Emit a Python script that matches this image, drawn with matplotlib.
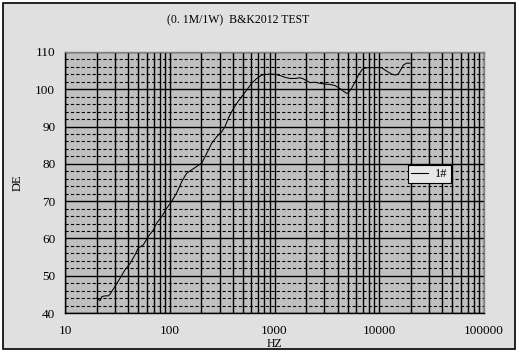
import matplotlib
matplotlib.use("Agg")
import matplotlib.pyplot as plt
from matplotlib.patches import Rectangle
from matplotlib.ticker import LogLocator, MultipleLocator, FixedLocator, FixedFormatter, NullFormatter

plt.rcParams['font.family'] = ['Liberation Serif', 'DejaVu Serif']
plt.rcParams['lines.scale_dashes'] = False

# frequency response
freq = [20, 21.6, 22.5, 24.1, 26, 27, 30, 33.5, 37.4, 41.8, 46.6, 50, 56, 62.4,
        69.7, 75, 83.7, 93.5, 104, 116, 130, 145, 162, 181, 202, 217, 234, 251,
        281, 313, 337, 362, 390, 435, 486, 543, 606, 676, 755, 842, 906, 1011,
        1130, 1260, 1406, 1570, 1752, 1884, 2027, 2182, 2436, 2719, 3035, 3388,
        3782, 4221, 4538, 4886, 5070, 5460, 5880, 6330, 6820, 7050, 7870, 8770,
        9780, 10500, 11300, 12200, 13100, 14100, 15200, 16000, 17000, 18200, 19700]
spl = [44.0, 43.3, 44.4, 44.6, 44.6, 45.1, 47.1, 49.3, 51.6, 53.3, 55.6, 57.4, 58.3, 60.5,
       62.3, 64.1, 65.8, 68.1, 69.9, 72.1, 75.2, 77.5, 78.4, 79.3, 80.2, 81.9, 83.7, 85.5,
       87.3, 88.6, 90.0, 92.2, 94.0, 96.2, 98.0, 99.8, 101.6, 102.9, 103.8, 104.0, 104.1, 104.0,
       103.7, 103.2, 102.9, 102.9, 103.1, 102.8, 102.3, 101.8, 101.9, 101.6, 101.4, 101.3,
       101.0, 100.2, 99.5, 98.9, 99.1, 100.3, 102.0, 103.8, 105.2, 105.6, 105.8, 105.8,
       105.8, 105.8, 105.2, 104.6, 104.1, 103.8, 104.1, 105.2, 106.5, 107.0, 107.0]

x_ticks = [10, 100, 1000, 10000, 100000]
x_labels = ['10', '100', '1000', '10000', '100000']
y_ticks = [40, 50, 60, 70, 80, 90, 100, 110]

fig = plt.figure(figsize=(5.21, 3.64), dpi=100, facecolor='white')
fig.patches.append(Rectangle((3/521, 1 - 349/364), 512/521, 346/364,
                             transform=fig.transFigure, facecolor='#e0e0e0',
                             edgecolor='black', linewidth=1.2, zorder=-10))

ax = fig.add_axes([65/521, 1 - 313/364, 419/521, 261/364])
ax.set_facecolor('#c0c0c0')
ax.set_xscale('log')
ax.set_xlim(10, 100000)
ax.set_ylim(40, 110)

ax.xaxis.set_major_locator(FixedLocator(x_ticks))
ax.xaxis.set_major_formatter(FixedFormatter(x_labels))
ax.xaxis.set_minor_locator(LogLocator(base=10, subs=range(2, 10), numticks=20))
ax.xaxis.set_minor_formatter(NullFormatter())
ax.yaxis.set_major_locator(FixedLocator(y_ticks))
ax.yaxis.set_minor_locator(MultipleLocator(2))

ax.grid(which='major', axis='both', color='black', linewidth=1.0)
ax.grid(which='minor', axis='x', color='black', linewidth=1.0)
ax.grid(which='minor', axis='y', color='black', linewidth=0.8, linestyle=(0, (2.3, 1.6)))
ax.set_axisbelow(True)

ax.tick_params(which='both', length=0, labelsize=9.5)
ax.tick_params(axis='x', pad=9)
ax.tick_params(axis='y', pad=7)

for s in ['left', 'bottom']:
    ax.spines[s].set_color('black')
for s in ['top', 'right']:
    ax.spines[s].set_color('#808080')
for s in ax.spines.values():
    s.set_linewidth(1)

ax.plot(freq, spl, color='black', linewidth=0.75, label='1#')

ax.set_xlabel('HZ', fontsize=8.5, labelpad=0.5)
ax.set_ylabel('DE', fontsize=9, labelpad=8)
fig.text(0.458, 0.945, '(0. 1M/1W)  B&K2012 TEST', fontsize=8.5, ha='center', va='center')

leg = ax.legend(loc='lower left', bbox_to_anchor=(0.819, 0.498), fontsize=9,
                handlelength=1.3, handletextpad=0.6, borderpad=0.25,
                fancybox=False, framealpha=1, borderaxespad=0)
leg.get_frame().set_facecolor('#e8e8e8')
leg.get_frame().set_edgecolor('black')
leg.get_frame().set_linewidth(0.8)

fig.savefig('out.png', dpi=100, facecolor=fig.get_facecolor())
